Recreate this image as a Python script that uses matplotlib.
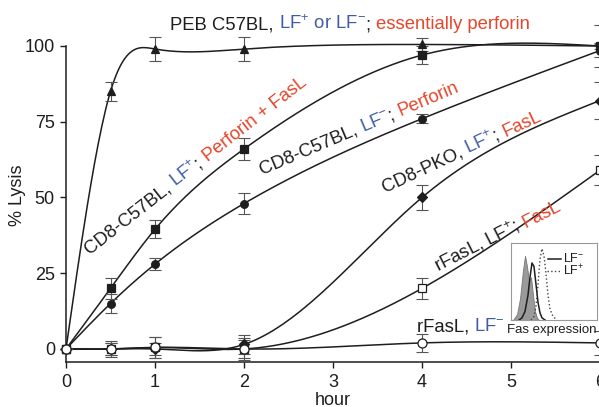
import numpy as np
import matplotlib
matplotlib.use("Agg")
from matplotlib import pyplot as plt

plt.rcParams['font.family'] = ['Liberation Sans', 'DejaVu Sans']
plt.rcParams['mathtext.fontset'] = 'custom'
plt.rcParams['mathtext.rm'] = 'Liberation Sans'
plt.rcParams['mathtext.it'] = 'Liberation Sans:italic'
plt.rcParams['mathtext.bf'] = 'Liberation Sans:bold'

# time points (hour)
hours = [0, 0.5, 1, 2, 4, 6]

# % lysis and error
peb = [0, 85, 99, 99, 100.5, 100]
peb_err = [0, 3, 4, 4, 2, 1]
cd8_lfp = [0, 20, 39.5, 66, 97, 100]
cd8_lfp_err = [0, 3.5, 3, 3.5, 3, 7]
cd8_lfm = [0, 15, 28, 48, 76, 98.5]
cd8_lfm_err = [0, 3, 2, 3.5, 1.5, 2]
pko = [0, 0, 0, 1.5, 50, 82]
pko_err = [0, 2.5, 2, 3, 4, 6]
rfasl_lfp = [0, 0, 0.5, 0, 20, 59]
rfasl_lfp_err = [0, 2, 3.5, 3, 3.5, 5]
rfasl_lfm = [0, 0, 0.5, 0, 2, 2]
rfasl_lfm_err = [0, 2, 3.5, 3.5, 3, 4]

# inset histogram (Fas expression), channel vs relative count
iso_ch = [2, 6, 9, 12, 14, 16, 18, 20, 22, 24, 26, 28]
iso_cnt = [0, 0.08, 0.3, 0.7, 0.9, 0.75, 0.55, 0.6, 0.35, 0.12, 0.03, 0]
lfm_ch = [8, 11, 14, 17, 19, 21, 23, 25, 27, 29, 31, 34]
lfm_cnt = [0, 0.03, 0.12, 0.35, 0.6, 0.8, 0.75, 0.5, 0.25, 0.1, 0.03, 0]
lfp_ch = [20, 23, 25, 27, 29, 31, 33, 35, 37, 39, 42, 46]
lfp_cnt = [0, 0.05, 0.2, 0.5, 0.85, 1.0, 0.9, 0.65, 0.35, 0.15, 0.05, 0]

BLUE = '#3f5ca5'
RED = '#e5462b'
INK = '#1e1e1e'
LABEL_SIZE = 13.3


def smooth(x, y, num=300):
    # natural cubic spline through the measured points, for drawing only
    x = np.asarray(x, float)
    y = np.asarray(y, float)
    n = len(x)
    h = np.diff(x)
    A = np.zeros((n, n))
    b = np.zeros(n)
    A[0, 0] = A[-1, -1] = 1
    for i in range(1, n - 1):
        A[i, i - 1] = h[i - 1]
        A[i, i] = 2 * (h[i - 1] + h[i])
        A[i, i + 1] = h[i]
        b[i] = 6 * ((y[i + 1] - y[i]) / h[i] - (y[i] - y[i - 1]) / h[i - 1])
    M = np.linalg.solve(A, b)
    xs = np.linspace(x[0], x[-1], num)
    k = np.clip(np.searchsorted(x, xs) - 1, 0, n - 2)
    x0, x1 = x[k], x[k + 1]
    hh = x1 - x0
    ys = (M[k] * (x1 - xs) ** 3 + M[k + 1] * (xs - x0) ** 3) / (6 * hh) \
        + (y[k] / hh - M[k] * hh / 6) * (x1 - xs) \
        + (y[k + 1] / hh - M[k + 1] * hh / 6) * (xs - x0)
    return xs, ys


fig = plt.figure(figsize=(5.99, 4.07), dpi=100)
ax = fig.add_axes([66 / 599, 45 / 407, 534 / 599, 316 / 407])

series = [
    (peb, peb_err, dict(marker='^', ms=6, mfc=INK)),
    (cd8_lfp, cd8_lfp_err, dict(marker='s', ms=5.5, mfc=INK)),
    (cd8_lfm, cd8_lfm_err, dict(marker='o', ms=5.5, mfc=INK)),
    (pko, pko_err, dict(marker='D', ms=5, mfc=INK)),
    (rfasl_lfp, rfasl_lfp_err, dict(marker='s', ms=6, mfc='white')),
    (rfasl_lfm, rfasl_lfm_err, dict(marker='o', ms=6.5, mfc='white')),
]
for vals, err, mk in series:
    xs, ys = smooth(hours, vals)
    ax.plot(xs, ys, color=INK, lw=1.1, clip_on=False, zorder=2)
    ax.errorbar(hours, vals, yerr=err, fmt='none', ecolor='#555555',
                elinewidth=0.8, capsize=4.5, capthick=0.8, clip_on=False, zorder=3)
    ax.plot(hours, vals, ls='none', mec=INK, mew=0.9, clip_on=False, zorder=4, **mk)

ax.set_xlim(0, 6)
ax.set_ylim(-4.3, 100)
ax.set_xticks([0, 1, 2, 3, 4, 5, 6])
ax.set_yticks([0, 25, 50, 75, 100])
for s in ['top', 'right']:
    ax.spines[s].set_visible(False)
for s in ['left', 'bottom']:
    ax.spines[s].set_linewidth(1.1)
    ax.spines[s].set_color(INK)
ax.tick_params(axis='both', labelsize=13, length=4.5, width=1.0, color=INK, labelcolor=INK)
ax.tick_params(axis='x', pad=4)
ax.tick_params(axis='y', pad=3.5)
ax.set_xlabel('hour', fontsize=13, labelpad=1, color=INK)
fig.text(18 / 599, 1 - 195 / 407, '% Lysis', rotation=90, fontsize=13,
         ha='center', va='center', color=INK)

renderer = fig.canvas.get_renderer()


def text_width(s, size):
    t1 = ax.text(0, 0, s + '|', fontsize=size)
    t2 = ax.text(0, 0, '|', fontsize=size)
    w = t1.get_window_extent(renderer).width - t2.get_window_extent(renderer).width
    t1.remove()
    t2.remove()
    return w


def color_label(x, y, pieces, angle=0, size=LABEL_SIZE):
    th = np.radians(angle)
    d = 0.0
    for s, c in pieces:
        ax.annotate(s, xy=(x, y), xycoords='data',
                    xytext=(d * np.cos(th), d * np.sin(th)), textcoords='offset pixels',
                    rotation=angle, rotation_mode='anchor', ha='left', va='baseline',
                    color=c, fontsize=size, annotation_clip=False)
        d += text_width(s, size)


color_label(1.17, 105.6, [('PEB C57BL, ', INK), ('LF$^{+}$ or LF$^{-}$', BLUE),
                          ('; ', INK), ('essentially perforin', RED)])
color_label(0.26, 31.0, [('CD8-C57BL, ', INK), ('LF$^{+}$', BLUE), ('; ', INK),
                         ('Perforin + FasL', RED)], angle=38)
color_label(2.20, 57.4, [('CD8-C57BL, ', INK), ('LF$^{-}$', BLUE), ('; ', INK),
                         ('Perforin', RED)], angle=23)
color_label(3.58, 51.5, [('CD8-PKO, ', INK), ('LF$^{+}$', BLUE), ('; ', INK),
                         ('FasL', RED)], angle=25)
color_label(4.18, 25.4, [('rFasL, LF$^{+}$; ', INK), ('FasL', RED)], angle=27)
color_label(3.94, 5.9, [('rFasL, ', INK), ('LF$^{-}$', BLUE)])

# inset: Fas expression histogram
ins = fig.add_axes([511 / 599, 87 / 407, 86 / 599, 77 / 407])
ins.fill_between(iso_ch, iso_cnt, color='#9a9a9a', lw=0.6, edgecolor='#777777')
ins.plot(lfm_ch, lfm_cnt, color=INK, lw=1.1)
ins.plot(lfp_ch, lfp_cnt, color='#444444', lw=1.0, ls=':')
ins.plot([37, 50], [0.86, 0.86], color=INK, lw=1.1)
ins.plot([36, 50], [0.69, 0.69], color='#444444', lw=1.0, ls=':')
ins.text(52, 0.86, 'LF$^{-}$', fontsize=9, va='center', color=INK)
ins.text(52, 0.69, 'LF$^{+}$', fontsize=9, va='center', color=INK)
ins.set_xlim(0, 86)
ins.set_ylim(0, 1.08)
ins.set_xticks([])
ins.set_yticks([])
for s in ins.spines.values():
    s.set_color('#999999')
    s.set_linewidth(0.8)
fig.text(507 / 599, 1 - 333 / 407, 'Fas expression', fontsize=9.5, ha='left',
         va='baseline', color=INK)

fig.savefig('out.png', dpi=100)
